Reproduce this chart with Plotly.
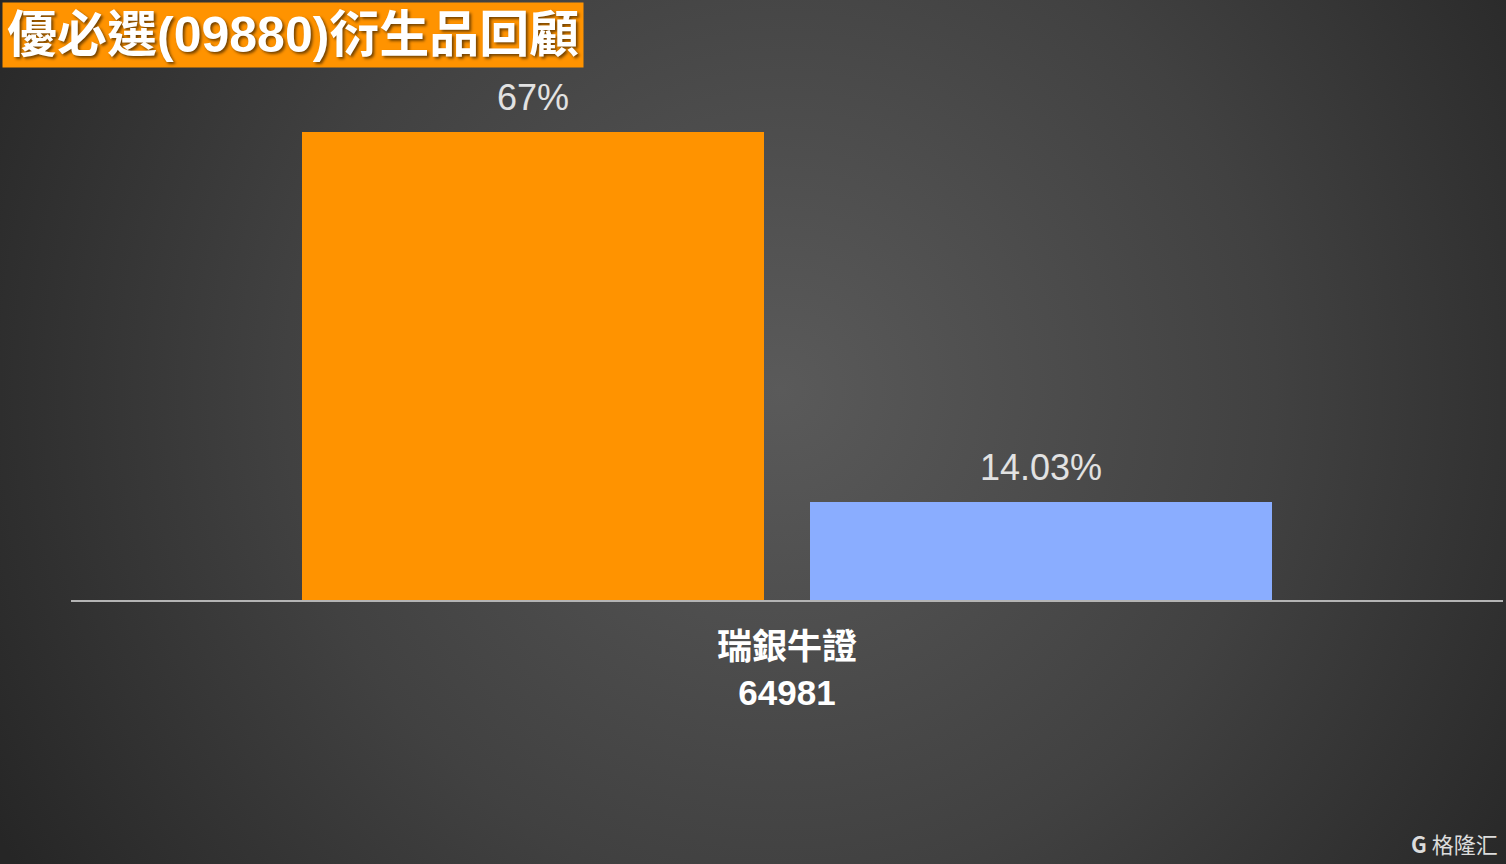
import plotly.graph_objects as go
import urllib.parse

# ---- data ----
title_text = "優必選(09880)衍生品回顧"
categories = ["瑞銀牛證<br>64981"]
series_names = ["A", "B"]
series_values = [[67.0], [14.03]]
value_labels = ["67%", "14.03%"]
bar_colors = ["#FF9300", "#8AADFF"]
watermark = "格隆汇"

W, H = 1506, 864
ML, MR, MT, MB = 71, 3, 70, 264
PW, PH = W - ML - MR, H - MT - MB
px_per_unit = 6.985
ymax = PH / px_per_unit

bar_width = 462 / PW
offsets = [(302 - 787) / PW, (810 - 787) / PW]

svg = (
    "<svg xmlns='http://www.w3.org/2000/svg' width='1506' height='864'>"
    "<defs><radialGradient id='g' cx='780' cy='390' r='900' gradientUnits='userSpaceOnUse'>"
    "<stop offset='0' stop-color='#5a5a5a'/>"
    "<stop offset='0.55' stop-color='#414141'/>"
    "<stop offset='1' stop-color='#262626'/>"
    "</radialGradient></defs>"
    "<rect width='1506' height='864' fill='url(#g)'/></svg>"
)
bg_uri = "data:image/svg+xml;charset=utf-8," + urllib.parse.quote(svg)

fig = go.Figure()
for name, vals, col, off in zip(series_names, series_values, bar_colors, offsets):
    fig.add_trace(go.Bar(
        x=categories, y=vals, name=name, marker=dict(color=col, line=dict(width=0)),
        width=bar_width, offset=off, showlegend=False, hoverinfo="skip",
    ))

annotations = []
for vals, lab, off in zip(series_values, value_labels, offsets):
    annotations.append(dict(
        x=0 + off + bar_width / 2, y=vals[0], xref="x", yref="y",
        text=lab, showarrow=False, yanchor="bottom", yshift=12,
        font=dict(family="Liberation Sans, Arial, sans-serif", size=36, color="#e2e2e2"),
    ))

annotations.append(dict(
    xref="paper", yref="paper", x=(2 - ML) / PW, y=1 + (MT - 2) / PH,
    xanchor="left", yanchor="top", showarrow=False,
    text="<b>" + title_text + "</b>",
    bgcolor="#FF9300", borderpad=4,
    font=dict(family="Liberation Sans, Noto Sans CJK TC, sans-serif", size=50, color="white",
              shadow="2px 2px 3px rgba(0,0,0,0.55)"),
))
annotations.append(dict(
    xref="paper", yref="paper", x=(1500 - ML) / PW, y=-(843 - 600) / PH,
    xanchor="right", yanchor="middle", showarrow=False,
    text="<b>G</b> " + watermark,
    font=dict(family="Noto Sans CJK SC, sans-serif", size=22, color="#dcdcdc"),
))

fig.update_layout(
    width=W, height=H, margin=dict(l=ML, r=MR, t=MT, b=MB),
    paper_bgcolor="#333333", plot_bgcolor="rgba(0,0,0,0)",
    barmode="group",
    images=[dict(source=bg_uri, xref="paper", yref="paper", x=-ML / PW, y=1 + MT / PH,
                 sizex=W / PW, sizey=H / PH, xanchor="left", yanchor="top",
                 sizing="stretch", layer="below")],
    annotations=annotations,
    xaxis=dict(showline=True, linecolor="#b4b4b4", linewidth=2, showgrid=False, zeroline=False,
               ticks="", ticklabelstandoff=15,
               tickfont=dict(family="Liberation Sans, Noto Sans CJK TC, sans-serif", size=35,
                             color="white", weight="bold")),
    yaxis=dict(range=[0, ymax], visible=False, showgrid=False, zeroline=False),
)

fig.write_html("out.html", config={"displayModeBar": False},
               post_script="document.body.style.margin='0';")
